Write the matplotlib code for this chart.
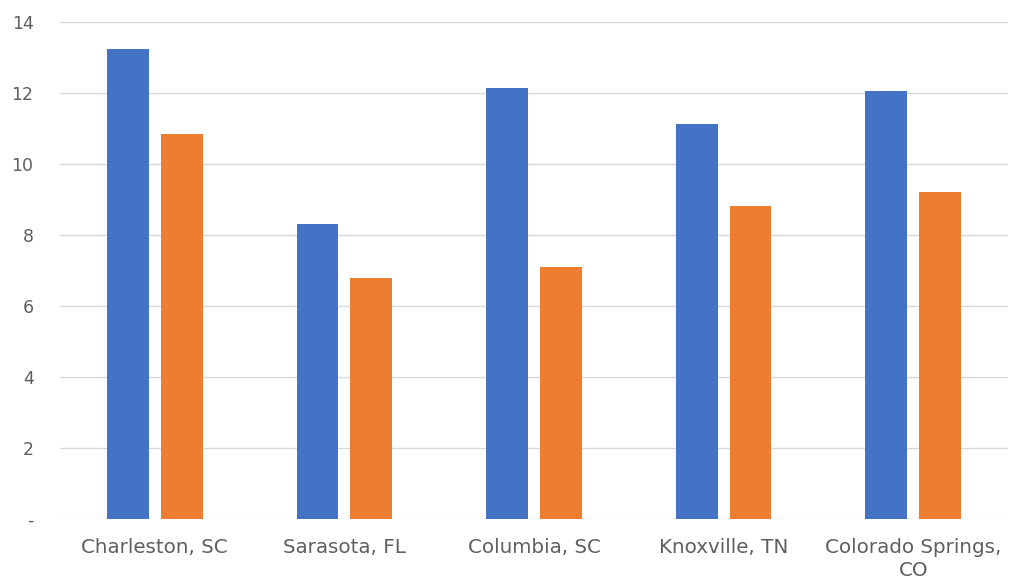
import numpy as np
import matplotlib.pyplot as plt

cities = ['Charleston, SC', 'Sarasota, FL', 'Columbia, SC', 'Knoxville, TN', 'Colorado Springs,\nCO']
series_a = [13.25, 8.3, 12.15, 11.12, 12.05]
series_b = [10.85, 6.8, 7.1, 8.82, 9.22]
yticks = [0, 2, 4, 6, 8, 10, 12, 14]
ytick_labels = ['-', '2', '4', '6', '8', '10', '12', '14']

plt.rcParams['font.family'] = ['DejaVu Sans']

fig = plt.figure(figsize=(10.16, 5.82), dpi=100)
ax = fig.add_axes([60 / 1016, 63 / 582, 948 / 1016, 497 / 582])

x = np.arange(len(cities))
w = 0.22
off = 0.142
ax.bar(x - off, series_a, width=w, color='#4472C4', zorder=3)
ax.bar(x + off, series_b, width=w, color='#ED7D31', zorder=3)

ax.set_xlim(-0.5, len(cities) - 0.5)
ax.set_ylim(0, 14)
ax.set_yticks(yticks)
ax.set_yticklabels(ytick_labels)
ax.set_xticks(x)
ax.set_xticklabels(cities, linespacing=1.25)

ax.grid(axis='y', color='#D9D9D9', linewidth=1, zorder=0)
for s in ax.spines.values():
    s.set_visible(False)
ax.tick_params(axis='both', length=0, colors='#5f5f5f')
ax.tick_params(axis='y', pad=19, labelsize=12.5)
ax.tick_params(axis='x', pad=13.5, labelsize=14.3)

fig.savefig('out.png', dpi=100)
